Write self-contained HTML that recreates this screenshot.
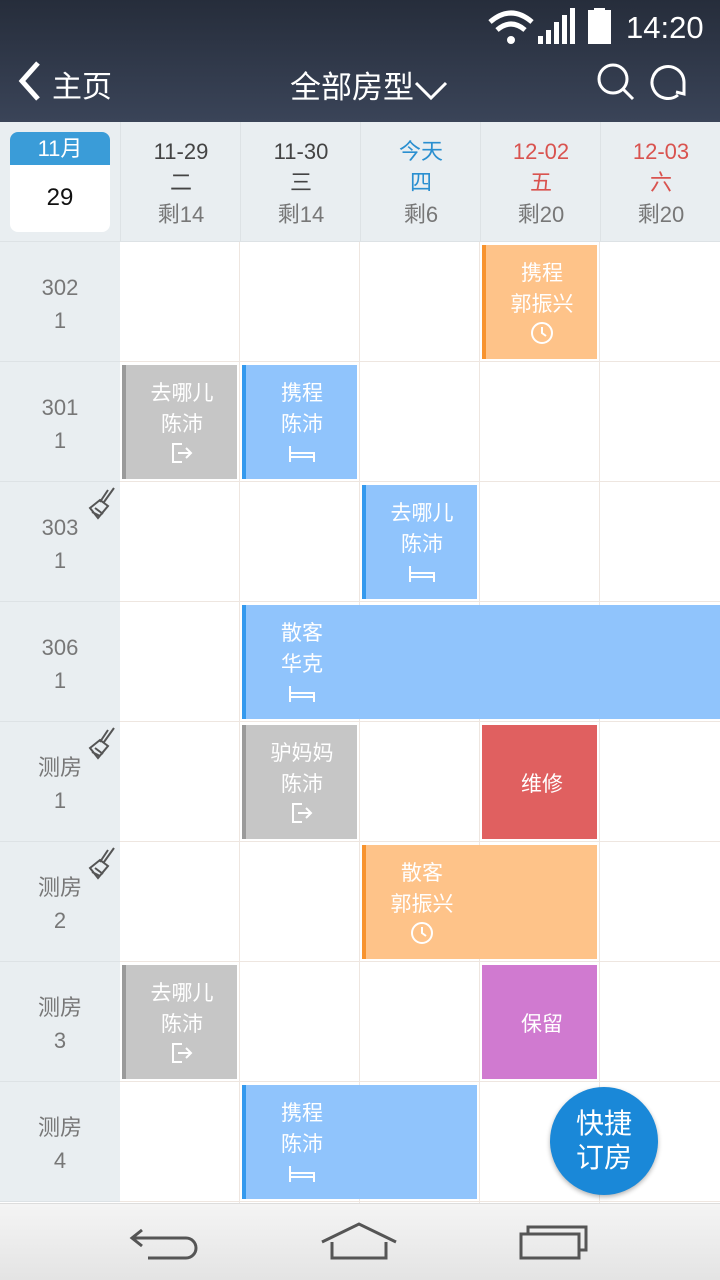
<!DOCTYPE html>
<html><head><meta charset="utf-8"><style>
*{margin:0;padding:0;box-sizing:border-box}
body{width:720px;height:1280px;overflow:hidden;position:relative;background:#fff;font-family:"Liberation Sans","Noto Sans CJK SC",sans-serif}
.abs{position:absolute}
#top{left:0;top:0;width:720px;height:122px;background:linear-gradient(#262d3b,#3a4458)}
#dh{left:0;top:122px;width:720px;height:120px;background:#e9eef1;border-bottom:1px solid #dde2e5}
.dc{position:absolute;top:0;width:120px;height:120px;text-align:center;border-left:1px solid #dde2e5}
.dc div{position:absolute;left:0;width:120px;font-size:22px;line-height:30px}
.rl{position:absolute;left:0;width:120px;height:120px;background:#e9eef1;border-bottom:1px solid #dde2e5;text-align:center;color:#777;font-size:22px}
.rl div{position:absolute;left:0;width:120px;line-height:30px}
.vl{position:absolute;top:242px;width:1px;height:962px;background:#eee6e0}
.hl{position:absolute;left:120px;width:600px;height:1px;background:#eee6e0}
.bk{position:absolute;color:#fff;font-size:21px;text-align:center;border-left:4px solid}
.bk div{position:absolute;left:0;width:112px;line-height:31px}
.or{background:#fec389;border-color:#f7932e}
.gr{background:#c6c6c6;border-color:#9a9a9a}
.bl{background:#90c4fc;border-color:#3399ee}
</style></head><body>
<div id="top" class="abs">
 <svg class="abs" style="left:488px;top:8px" width="130" height="40">
  <path d="M2 14 Q23 -4 44 14" stroke="#fff" stroke-width="5" fill="none"/><path d="M9 22 Q23 10 37 22" stroke="#fff" stroke-width="5" fill="none"/><circle cx="23" cy="32" r="4" fill="#fff"/>
  <rect x="50" y="28" width="5" height="8" fill="#fff"/><rect x="58" y="22" width="5" height="14" fill="#fff"/><rect x="66" y="14" width="5" height="22" fill="#fff"/><rect x="74" y="7" width="5" height="29" fill="#fff"/><rect x="82" y="0" width="5" height="36" fill="#fff"/>
  <rect x="100" y="2" width="23" height="34" fill="#fff"/><rect x="106" y="0" width="11" height="3" fill="#fff"/>
 </svg>
 <div class="abs" style="left:626px;top:10px;color:#fff;font-size:31px">14:20</div>
 <svg class="abs" style="left:14px;top:60px" width="30" height="42"><path d="M24 3 L8 21 L24 39" stroke="#fff" stroke-width="5" fill="none"/></svg>
 <div class="abs" style="left:52px;top:62px;color:#fff;font-size:30px">主页</div>
 <div class="abs" style="left:290px;top:62px;color:#fff;font-size:31px">全部房型<svg width="34" height="24" style="vertical-align:middle"><path d="M2 5 L17 20 L32 5" stroke="#fff" stroke-width="3" fill="none"/></svg></div>
 <svg class="abs" style="left:596px;top:62px" width="40" height="40"><circle cx="17" cy="17" r="14" stroke="#fff" stroke-width="3" fill="none"/><path d="M27 27 L37 37" stroke="#fff" stroke-width="3"/></svg>
 <svg class="abs" style="left:650px;top:62px" width="40" height="40"><path d="M28 33 A16 16 0 1 1 34 20" stroke="#fff" stroke-width="3" fill="none"/><path d="M34 20 L34 32 L26 30" stroke="#fff" stroke-width="3" fill="none"/></svg>
</div>
<div id="dh" class="abs">
 <div class="abs" style="left:10px;top:10px;width:100px;height:100px;background:#fff;border-radius:8px;overflow:hidden">
  <div style="height:33px;background:#3a9cd8;color:#fff;font-size:22px;text-align:center;line-height:33px">11月</div>
  <div style="text-align:center;font-size:24px;line-height:66px;color:#111">29</div>
 </div>
 <div class="dc" style="left:120px"><div style="top:15px;color:#444">11-29</div><div style="top:46px;color:#444">二</div><div style="top:78px;color:#777">剩14</div></div>
 <div class="dc" style="left:240px"><div style="top:15px;color:#444">11-30</div><div style="top:46px;color:#444">三</div><div style="top:78px;color:#777">剩14</div></div>
 <div class="dc" style="left:360px"><div style="top:15px;color:#2a8fd0">今天</div><div style="top:46px;color:#2a8fd0">四</div><div style="top:78px;color:#777">剩6</div></div>
 <div class="dc" style="left:480px"><div style="top:15px;color:#d9534f">12-02</div><div style="top:46px;color:#d9534f">五</div><div style="top:78px;color:#777">剩20</div></div>
 <div class="dc" style="left:600px"><div style="top:15px;color:#d9534f">12-03</div><div style="top:46px;color:#d9534f">六</div><div style="top:78px;color:#777">剩20</div></div>
</div>

<div class="rl" style="top:242px"><div style="top:31px">302</div><div style="top:64px">1</div></div>
<div class="rl" style="top:362px"><div style="top:31px">301</div><div style="top:64px">1</div></div>
<div class="rl" style="top:482px"><div style="top:31px">303</div><div style="top:64px">1</div></div>
<div class="rl" style="top:602px"><div style="top:31px">306</div><div style="top:64px">1</div></div>
<div class="rl" style="top:722px"><div style="top:31px">测房</div><div style="top:64px">1</div></div>
<div class="rl" style="top:842px"><div style="top:31px">测房</div><div style="top:64px">2</div></div>
<div class="rl" style="top:962px"><div style="top:31px">测房</div><div style="top:64px">3</div></div>
<div class="rl" style="top:1082px"><div style="top:31px">测房</div><div style="top:64px">4</div></div>

<svg class="abs" style="left:84px;top:486px" width="34" height="36"><path d="M30 2 L20 16 M24 4 L16 16 M6 22 L16 14 L24 20 L14 32 Z M8 26 L16 30 M11 22 L19 28" stroke="#555" stroke-width="2" fill="none"/></svg>
<svg class="abs" style="left:84px;top:726px" width="34" height="36"><path d="M30 2 L20 16 M24 4 L16 16 M6 22 L16 14 L24 20 L14 32 Z M8 26 L16 30 M11 22 L19 28" stroke="#555" stroke-width="2" fill="none"/></svg>
<svg class="abs" style="left:84px;top:846px" width="34" height="36"><path d="M30 2 L20 16 M24 4 L16 16 M6 22 L16 14 L24 20 L14 32 Z M8 26 L16 30 M11 22 L19 28" stroke="#555" stroke-width="2" fill="none"/></svg>

<div class="vl" style="left:239px"></div><div class="vl" style="left:359px"></div><div class="vl" style="left:479px"></div><div class="vl" style="left:599px"></div>
<div class="hl" style="top:361px"></div><div class="hl" style="top:481px"></div><div class="hl" style="top:601px"></div><div class="hl" style="top:721px"></div><div class="hl" style="top:841px"></div><div class="hl" style="top:961px"></div><div class="hl" style="top:1081px"></div><div class="hl" style="top:1201px"></div>

<!-- bookings -->
<div class="bk or" style="left:482px;top:245px;width:115px;height:114px"><div style="top:13px">携程</div><div style="top:44px">郭振兴</div><div style="top:76px"><svg width="24" height="24"><circle cx="12" cy="12" r="10" stroke="#fff" stroke-width="2" fill="none"/><path d="M12 6 V12 L16 15" stroke="#fff" stroke-width="2" fill="none"/></svg></div></div>
<div class="bk gr" style="left:122px;top:365px;width:115px;height:114px"><div style="top:13px">去哪儿</div><div style="top:44px">陈沛</div><div style="top:76px"><svg width="24" height="24"><path d="M12 3 H3 V21 H12 M8 12 H21 M16 7 L21 12 L16 17" stroke="#fff" stroke-width="2" fill="none"/></svg></div></div>
<div class="bk bl" style="left:242px;top:365px;width:115px;height:114px"><div style="top:13px">携程</div><div style="top:44px">陈沛</div><div style="top:76px"><svg width="28" height="24"><path d="M2 5 V21 M2 12 H26 V21 M2 16 H26" stroke="#fff" stroke-width="2" fill="none"/></svg></div></div>
<div class="bk bl" style="left:362px;top:485px;width:115px;height:114px"><div style="top:13px">去哪儿</div><div style="top:44px">陈沛</div><div style="top:76px"><svg width="28" height="24"><path d="M2 5 V21 M2 12 H26 V21 M2 16 H26" stroke="#fff" stroke-width="2" fill="none"/></svg></div></div>
<div class="bk bl" style="left:242px;top:605px;width:478px;height:114px"><div style="top:13px">散客</div><div style="top:44px">华克</div><div style="top:76px"><svg width="28" height="24"><path d="M2 5 V21 M2 12 H26 V21 M2 16 H26" stroke="#fff" stroke-width="2" fill="none"/></svg></div></div>
<div class="bk gr" style="left:242px;top:725px;width:115px;height:114px"><div style="top:13px">驴妈妈</div><div style="top:44px">陈沛</div><div style="top:76px"><svg width="24" height="24"><path d="M12 3 H3 V21 H12 M8 12 H21 M16 7 L21 12 L16 17" stroke="#fff" stroke-width="2" fill="none"/></svg></div></div>
<div class="bk" style="left:482px;top:725px;width:115px;height:114px;background:#e06060;border-color:#e06060"><div style="top:44px">维修</div></div>
<div class="bk or" style="left:362px;top:845px;width:235px;height:114px"><div style="top:13px">散客</div><div style="top:44px">郭振兴</div><div style="top:76px"><svg width="24" height="24"><circle cx="12" cy="12" r="10" stroke="#fff" stroke-width="2" fill="none"/><path d="M12 6 V12 L16 15" stroke="#fff" stroke-width="2" fill="none"/></svg></div></div>
<div class="bk gr" style="left:122px;top:965px;width:115px;height:114px"><div style="top:13px">去哪儿</div><div style="top:44px">陈沛</div><div style="top:76px"><svg width="24" height="24"><path d="M12 3 H3 V21 H12 M8 12 H21 M16 7 L21 12 L16 17" stroke="#fff" stroke-width="2" fill="none"/></svg></div></div>
<div class="bk" style="left:482px;top:965px;width:115px;height:114px;background:#d07ad0;border-color:#d07ad0"><div style="top:44px">保留</div></div>
<div class="bk bl" style="left:242px;top:1085px;width:235px;height:114px"><div style="top:13px">携程</div><div style="top:44px">陈沛</div><div style="top:76px"><svg width="28" height="24"><path d="M2 5 V21 M2 12 H26 V21 M2 16 H26" stroke="#fff" stroke-width="2" fill="none"/></svg></div></div>

<div class="abs" style="left:550px;top:1087px;width:108px;height:108px;border-radius:54px;background:#1a88d8;box-shadow:0 2px 5px rgba(0,0,0,.3);color:#fff;font-size:28px;text-align:center;line-height:34px;padding-top:20px">快捷<br>订房</div>

<div class="abs" style="left:0;top:1203px;width:720px;height:77px;background:linear-gradient(#f4f4f4,#e4e4e4);border-top:1px solid #ddd">
 <svg class="abs" style="left:128px;top:18px" width="74" height="40"><path d="M14 8 L4 16 L14 24 M4 16 H58 A10 10 0 0 1 58 36 H20" stroke="#555" stroke-width="3" fill="none"/></svg>
 <svg class="abs" style="left:320px;top:16px" width="78" height="42"><path d="M2 22 L39 4 L76 22 M12 22 V38 H66 V22" stroke="#555" stroke-width="3" fill="none"/></svg>
 <svg class="abs" style="left:518px;top:18px" width="72" height="40"><rect x="3" y="12" width="58" height="24" stroke="#555" stroke-width="3" fill="none"/><path d="M10 12 V5 H68 V28 H61" stroke="#555" stroke-width="3" fill="none"/></svg>
</div>
</body></html>
